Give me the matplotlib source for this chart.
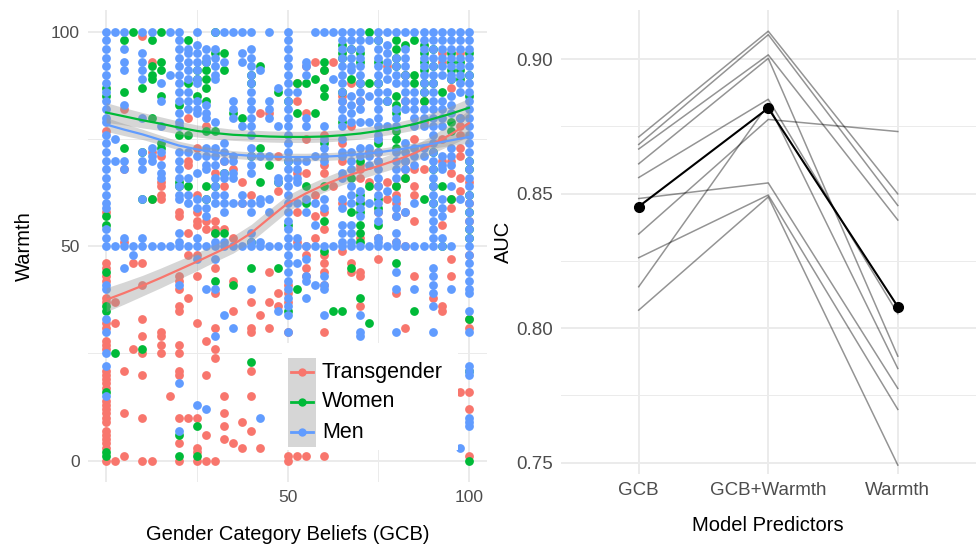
import numpy as np
import matplotlib
matplotlib.use("Agg")
import matplotlib.pyplot as plt
from matplotlib.patches import Rectangle
from matplotlib.lines import Line2D

plt.rcParams['font.family'] = ['Liberation Sans', 'DejaVu Sans']

# ---- left panel data: warmth ratings at each GCB level ----
gcb_levels = [0, 2.5, 5, 7.5, 10, 12.5, 15, 17.5, 20, 22.5, 25, 27.5, 30, 32.5, 35, 37.5,
              40, 42.5, 45, 47.5, 50, 52.5, 55, 57.5, 60, 62.5, 65, 67.5, 70, 72.5, 75,
              77.5, 80, 82.5, 85, 87.5, 90, 92.5, 95, 97.5, 100]

trans_warmth = [
    [77, 58, 46, 45, 43, 42, 38, 37, 32, 31, 28, 27, 26, 21, 20, 19, 18, 17, 14, 13, 12, 11, 10, 9, 7, 6, 5, 4, 3, 0],
    [37, 32, 0],
    [82, 68, 51, 21, 11, 1],
    [46, 26],
    [99, 46, 41, 33, 29, 25, 20, 10, 0],
    [93, 72, 61, 0],
    [71, 65, 64, 62, 61, 30, 29, 27, 25],
    [15],
    [58, 57, 43, 42, 40, 36, 35, 27, 25, 21, 20, 10, 4, 0],
    [80, 70, 69, 53, 48, 38, 10],
    [73, 62, 58, 56, 55, 48, 43, 32, 10, 3, 2, 0],
    [78, 56, 54, 28, 20, 6, 0],
    [67, 56, 54, 53, 45, 39, 31, 26, 24, 0],
    [70, 64, 54, 15, 11, 8, 5],
    [68, 52, 42, 35, 4],
    [65, 60, 9, 3],
    [62, 37, 31, 30, 21, 15, 7],
    [81, 34, 3],
    [81, 44, 37, 31],
    [71, 63, 39, 36],
    [41, 39, 37, 30, 1, 0],
    [88, 84, 67, 58, 51, 1],
    [92, 81, 75, 67, 50, 48, 45, 43, 1],
    [93, 62, 57, 52],
    [91, 76, 69, 67, 58, 54, 48, 46, 44, 41, 30, 1],
    [93, 64],
    [85, 84, 74, 70, 60, 49],
    [88, 78, 46, 44],
    [84, 69, 68, 66, 60, 52, 44, 43, 36],
    [72, 65],
    [75, 72, 70, 64, 58, 52, 47],
    [92, 65, 61],
    [64, 62, 60, 57, 51, 39],
    [90, 84, 70, 68, 66, 58, 50, 31],
    [75, 68, 64, 62, 56, 43],
    [84, 79, 68],
    [38],
    [95, 93, 75, 70, 55, 36, 35],
    [87, 70, 67, 61, 59, 47, 43],
    [95, 80, 78, 76, 73, 71, 66, 63, 16],
    [65, 60, 56, 48, 33, 31, 16, 12, 1],
]

women_warmth = [
    [87, 85, 57, 55, 44, 36, 35, 16, 2, 1],
    [25],
    [98, 86, 73],
    [100],
    [87, 72, 61, 26],
    [98, 92, 90, 89, 80, 61],
    [100, 93, 91, 85, 74, 73],
    [],
    [83, 76, 65, 64, 6, 1],
    [98, 88, 76, 64],
    [91, 89, 85, 8, 1],
    [93, 91, 89, 87, 84, 77, 64, 61],
    [100, 95, 77, 64, 53, 42],
    [95, 91, 67, 53],
    [81, 41],
    [80],
    [90, 88, 71, 51, 45, 23],
    [92, 73, 65],
    [69],
    [86, 65, 45],
    [84, 70, 55, 35],
    [88, 81, 40],
    [88, 64, 60],
    [89, 81],
    [93, 91, 87, 85, 74, 64, 56, 49],
    [35],
    [97, 95, 94, 86, 79, 35],
    [96, 89, 66, 58, 45],
    [95, 93, 88, 70, 62, 60, 58, 55, 53, 51, 38],
    [100, 88, 64, 32],
    [98, 93, 88, 74, 61, 59, 55],
    [84],
    [98, 96, 94, 92, 85, 83, 81, 77, 75, 73, 64, 46],
    [97, 90, 66],
    [98, 90, 88, 35],
    [97, 95, 93, 91, 88, 86, 84, 61],
    [96, 92, 88, 72, 68, 64, 60],
    [86, 64, 50],
    [95, 93, 91, 89, 79, 77, 61],
    [93, 91, 89],
    [95, 90, 85, 70, 68, 62, 58, 54, 52, 33, 21, 0],
]

men_warmth = [
    [100, 98, 96, 94, 92, 90, 88, 86, 84, 82, 80, 79, 76, 74, 72, 70, 68, 66, 64, 62, 60, 59, 54, 52, 50, 41, 40, 33, 30, 25, 22, 15],
    [100, 75, 70, 50],
    [100, 96, 93, 91, 83, 70, 68, 52, 50, 45],
    [50, 48],
    [100, 95, 93, 91, 89, 80, 72, 70, 68, 61, 52, 50],
    [100, 73, 71, 70, 50],
    [88, 84, 78, 72, 69, 67, 66, 50],
    [100, 90, 50],
    [100, 98, 96, 94, 92, 90, 88, 86, 84, 81, 79, 78, 72, 70, 68, 66, 64, 62, 61, 53, 51, 50, 41, 18, 7],
    [96, 95, 93, 91, 89, 86, 84, 82, 72, 66, 62, 60, 50],
    [100, 97, 95, 93, 91, 89, 88, 84, 82, 81, 71, 67, 61, 59, 52, 50, 47, 13],
    [96, 94, 93, 83, 81, 80, 73, 71, 69, 68, 61, 59, 57, 50, 40, 12],
    [100, 96, 94, 92, 90, 89, 79, 73, 71, 69, 66, 64, 62, 60, 51, 50, 47, 40, 29],
    [100, 93, 74, 72, 70, 67, 66, 62, 60, 58, 51, 50, 34],
    [100, 84, 82, 80, 71, 70, 67, 66, 60, 50, 31],
    [100, 95, 93, 78, 62, 60, 50],
    [100, 96, 94, 92, 90, 88, 86, 84, 82, 80, 78, 76, 73, 71, 69, 67, 60, 58, 53, 51, 50, 40],
    [91, 71, 61, 60, 51, 50, 10],
    [100, 84, 82, 80, 71, 61, 58, 50],
    [87, 78, 66, 65, 50, 35],
    [100, 98, 96, 94, 92, 90, 88, 86, 84, 82, 80, 78, 76, 74, 72, 70, 68, 66, 64, 62, 60, 58, 56, 54, 52, 50, 48, 46, 44, 42, 40, 38, 36, 34, 30],
    [86, 70, 68, 66, 65, 60, 52, 50, 46],
    [93, 92, 90, 80, 78, 70, 61, 58, 50, 47, 43, 42, 38],
    [100, 71, 60, 55, 50, 41],
    [100, 78, 75, 73, 71, 70, 61, 59, 50, 43, 41, 40, 34],
    [100, 89, 50],
    [100, 98, 96, 94, 92, 90, 88, 86, 84, 82, 80, 78, 75, 72, 71, 67, 66, 61, 59, 55, 53, 51, 50],
    [100, 98, 96, 94, 92, 91, 85, 83, 81, 79, 72, 70, 68, 64, 62, 60, 55, 53, 51, 50],
    [100, 98, 96, 94, 92, 90, 88, 86, 84, 82, 79, 73, 71, 63, 61, 59, 57, 50, 34, 30, 29],
    [98, 85, 79, 73, 71, 69, 60, 50],
    [100, 98, 96, 94, 92, 90, 88, 86, 84, 82, 80, 78, 76, 75, 72, 70, 68, 66, 64, 62, 60, 58, 56, 52, 51, 50],
    [100, 97, 95, 93, 91, 89, 86, 84, 78, 63, 50],
    [100, 94, 92, 90, 88, 82, 80, 78, 72, 70, 68, 66, 61, 59, 57, 53, 51, 50, 44, 40, 30],
    [100, 96, 94, 92, 90, 88, 86, 84, 82, 74, 72, 70, 68, 58, 50],
    [100, 86, 84, 82, 80, 78, 73, 71, 69, 60, 50, 40],
    [100, 98, 96, 94, 92, 90, 88, 86, 82, 80, 78, 73, 71, 50],
    [100, 98, 96, 94, 92, 90, 88, 86, 84, 82, 80, 78, 76, 74, 72, 70, 68, 66, 64, 62, 60, 58, 56, 54, 52, 50, 45, 43, 41, 39, 36, 30],
    [100, 98, 96, 94, 92, 90, 84, 82, 80, 78, 71, 69, 68, 61, 59, 57, 52, 50],
    [100, 98, 96, 94, 92, 90, 89, 85, 83, 81, 73, 71, 69, 64, 50, 40],
    [100, 98, 96, 94, 92, 90, 88, 86, 80, 61, 3],
    [100, 98, 96, 94, 92, 90, 88, 86, 84, 82, 80, 78, 76, 74, 72, 70, 68, 66, 64, 62, 60, 58, 56, 54, 52, 50, 48, 46, 44, 42, 40, 39, 35, 30, 22, 21, 20, 10, 9, 8],
]

# loess fits (value and half width of the band)
fit_x = [0, 5, 10, 15, 20, 25, 30, 35, 40, 45, 50, 55, 60, 65, 70, 75, 80, 85, 90, 95, 100]
trans_fit = [37.5, 39.1, 40.8, 42.6, 44.5, 46.4, 48.4, 50.4, 53.1, 56.6, 60.0, 62.3, 64.3, 66.0, 67.4, 68.7, 70.1, 71.7, 73.8, 76.1, 78.7]
trans_se = [2.8, 2.6, 2.4, 2.3, 2.2, 2.1, 2.0, 2.0, 2.0, 2.0, 1.9, 1.8, 1.7, 1.7, 1.7, 1.7, 1.8, 1.9, 2.1, 2.5, 3.1]
women_fit = [81.2, 80.3, 79.4, 78.6, 77.7, 76.9, 76.4, 76.0, 75.8, 75.6, 75.5, 75.5, 75.6, 75.9, 76.3, 76.9, 77.6, 78.5, 79.7, 80.9, 82.3]
women_se = [2.3, 2.0, 1.8, 1.6, 1.5, 1.4, 1.4, 1.3, 1.3, 1.3, 1.3, 1.3, 1.3, 1.3, 1.3, 1.3, 1.3, 1.4, 1.5, 1.8, 2.2]
men_fit = [78.4, 77.2, 76.1, 74.8, 73.5, 72.6, 71.9, 71.4, 71.1, 70.9, 70.8, 70.8, 70.9, 71.1, 71.5, 71.9, 72.5, 73.2, 73.9, 74.7, 75.5]
men_se = [1.6, 1.4, 1.2, 1.1, 1.0, 1.0, 0.9, 0.9, 0.9, 0.9, 0.9, 0.9, 0.9, 0.9, 0.9, 0.9, 0.9, 0.9, 1.0, 1.2, 1.5]

group_names = ['Transgender', 'Women', 'Men']
group_colors = ['#F8766D', '#00BA38', '#619CFF']

# ---- right panel data: AUC per fold ----
predictors = ['GCB', 'GCB+Warmth', 'Warmth']
auc_gcb = [0.8711, 0.8683, 0.8666, 0.8611, 0.8560, 0.8350, 0.8154, 0.8482, 0.8262, 0.8067]
auc_gcb_warmth = [0.9104, 0.9091, 0.9016, 0.9003, 0.8851, 0.8776, 0.8832, 0.8540, 0.8495, 0.8488]
auc_warmth = [0.8499, 0.8456, 0.8402, 0.7896, 0.8054, 0.8731, 0.7850, 0.7776, 0.7698, 0.7491]
auc_mean = [0.8452, 0.8818, 0.8080]

grid_col = '#ebebeb'
tick_col = '#4d4d4d'

fig = plt.figure(figsize=(9.77, 5.46), dpi=100)
ax = fig.add_axes([0.0901, 0.1172, 0.4084, 0.8636])
ax2 = fig.add_axes([0.5742, 0.1319, 0.4243, 0.8489])


def flatten(cols):
    xs, ys = [], []
    for x, col in zip(gcb_levels, cols):
        xs += [x] * len(col)
        ys += col
    return xs, ys


for cols, c in zip([trans_warmth, women_warmth, men_warmth], group_colors):
    xs, ys = flatten(cols)
    ax.scatter(xs, ys, s=40, color=c, linewidths=0, zorder=2)

for fit, se, c in zip([trans_fit, women_fit, men_fit], [trans_se, women_se, men_se], group_colors):
    fit = np.array(fit)
    se = np.array(se)
    ax.fill_between(fit_x, fit - se, fit + se, color='#999999', alpha=0.4, linewidth=0, zorder=3)
    ax.plot(fit_x, fit, color=c, lw=1.6, zorder=4)

ax.set_xlim(-5, 105)
ax.set_ylim(-5, 105)
ax.set_xticks([0, 50, 100])
ax.set_xticklabels(['', '50', '100'])
ax.set_yticks([0, 50, 100])
ax.set_xticks([25, 75], minor=True)
ax.set_yticks([25, 75], minor=True)
ax.set_xlabel('Gender Category Beliefs (GCB)', fontsize=14.5, labelpad=14)
ax.set_ylabel('Warmth', fontsize=14.5, labelpad=12)

# legend drawn by hand (white box, grey key column)
ax.add_patch(Rectangle((0.486, 0.068), 0.441, 0.227, transform=ax.transAxes,
                       facecolor='white', edgecolor='none', zorder=6))
ax.add_patch(Rectangle((0.501, 0.074), 0.070, 0.189, transform=ax.transAxes,
                       facecolor='#d6d6d6', edgecolor='none', zorder=7))
for name, c, yy in zip(group_names, group_colors, [0.233, 0.170, 0.106]):
    ax.add_line(Line2D([0.509, 0.564], [yy, yy], transform=ax.transAxes, color=c, lw=2, zorder=8))
    ax.add_line(Line2D([0.536], [yy], transform=ax.transAxes, color=c, marker='o',
                       markersize=6, markeredgewidth=0, zorder=9))
    ax.text(0.586, yy, name, transform=ax.transAxes, fontsize=15.5, va='center', ha='left', zorder=9)

# right panel
xpos = np.arange(len(predictors))
for row in zip(auc_gcb, auc_gcb_warmth, auc_warmth):
    ax2.plot(xpos, row, color='black', alpha=0.42, lw=1.1, zorder=2)
ax2.plot(xpos, auc_mean, color='black', lw=1.5, marker='o', markersize=7, zorder=3)
ax2.set_xlim(-0.6, 2.6)
ax2.set_ylim(0.7458, 0.9181)
ax2.set_xticks(xpos)
ax2.set_xticklabels(predictors)
ax2.set_yticks([0.75, 0.80, 0.85, 0.90])
ax2.set_yticklabels(['0.75', '0.80', '0.85', '0.90'])
ax2.set_yticks([0.775, 0.825, 0.875], minor=True)
ax2.set_xlabel('Model Predictors', fontsize=14.5, labelpad=12)
ax2.set_ylabel('AUC', fontsize=14.5, labelpad=2)

for a, ls in ((ax, 12.5), (ax2, 13.5)):
    for s in a.spines.values():
        s.set_visible(False)
    a.grid(which='major', color=grid_col, lw=1.4, zorder=0)
    a.grid(which='minor', color=grid_col, lw=0.7, zorder=0)
    a.set_axisbelow(True)
    a.tick_params(which='both', length=0, labelsize=ls, labelcolor=tick_col, pad=6)

fig.savefig('out.png', dpi=100)
